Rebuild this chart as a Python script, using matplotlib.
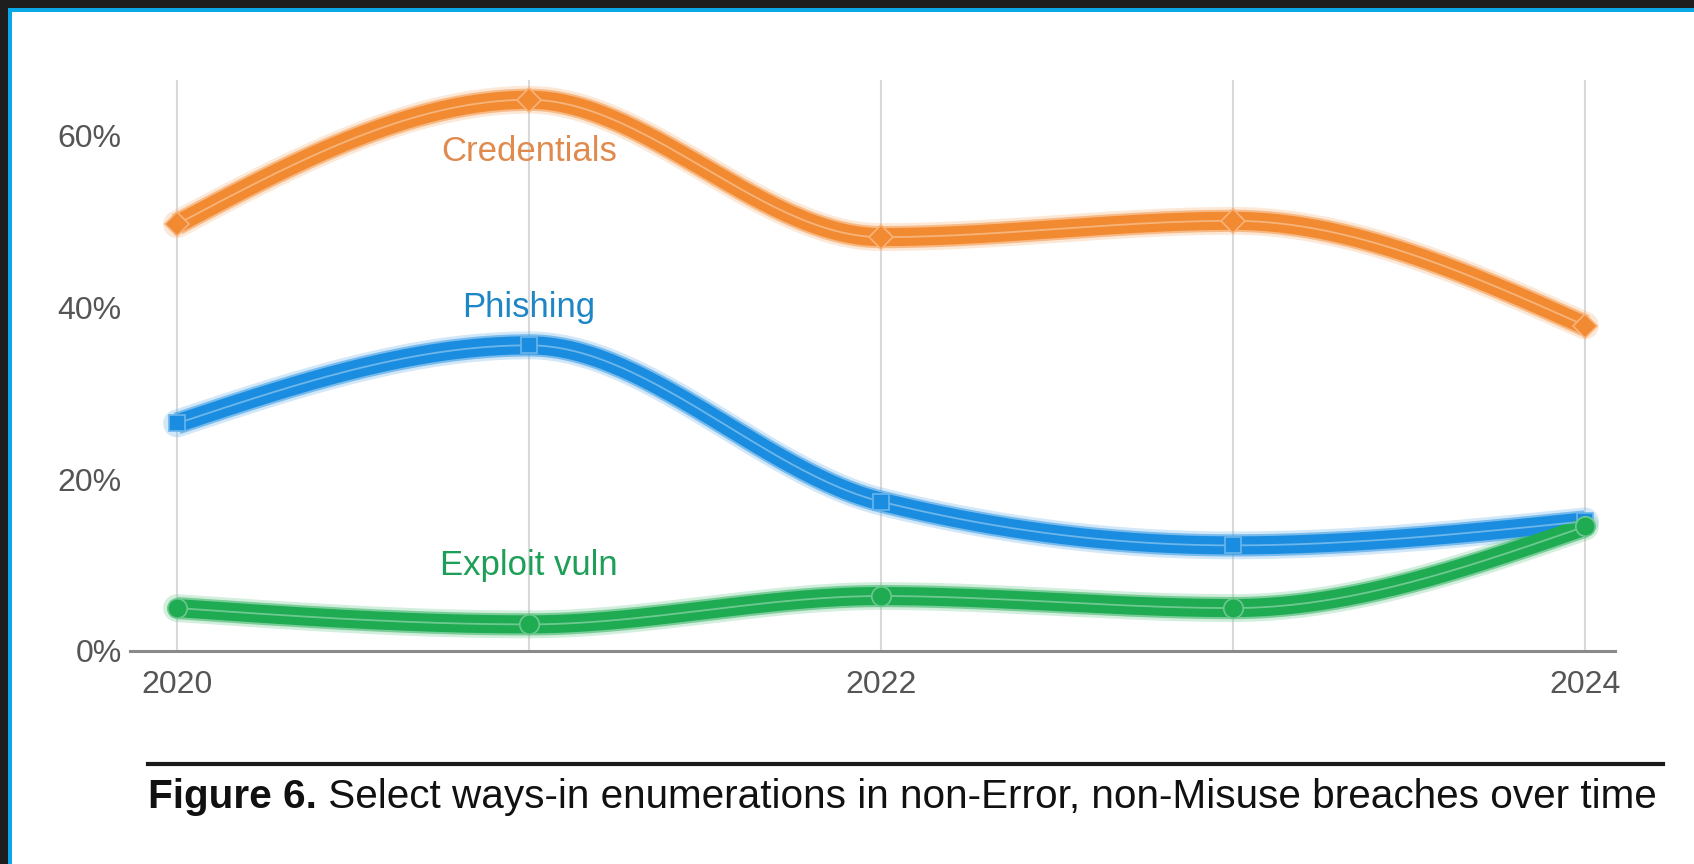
import numpy as np
import matplotlib
matplotlib.use("Agg")
import matplotlib.pyplot as plt
from matplotlib.patches import Rectangle
from matplotlib.lines import Line2D

plt.rcParams['font.family'] = ['Liberation Sans', 'DejaVu Sans']

years = [2020, 2021, 2022, 2023, 2024]
tick_years = [2020, 2022, 2024]
y_ticks = [0, 20, 40, 60]

credentials = [49.7, 64.2, 48.2, 50.1, 37.9]
phishing = [26.5, 35.6, 17.4, 12.3, 15.1]
exploit_vuln = [5.0, 3.1, 6.4, 5.0, 14.5]

series_names = ["Credentials", "Phishing", "Exploit vuln"]
label_y = [58.2, 40.0, 9.9]
caption_bold = "Figure 6."
caption_rest = " Select ways-in enumerations in non-Error, non-Misuse breaches over time"


def monotone_curve(x, y, n=60):
    """Monotone cubic (Fritsch-Carlson / curveMonotoneX style) interpolation."""
    x = np.asarray(x, float)
    y = np.asarray(y, float)
    h = np.diff(x)
    d = np.diff(y) / h
    m = np.zeros_like(y)
    for i in range(1, len(y) - 1):
        s0, s1 = d[i - 1], d[i]
        p = (s0 * h[i] + s1 * h[i - 1]) / (h[i - 1] + h[i])
        m[i] = (np.sign(s0) + np.sign(s1)) * min(abs(s0), abs(s1), 0.5 * abs(p))
    m[0] = (3 * d[0] - m[1]) / 2
    m[-1] = (3 * d[-1] - m[-2]) / 2
    xs, ys = [], []
    for i in range(len(h)):
        t = np.linspace(0, 1, n, endpoint=(i == len(h) - 1))
        h00 = 2 * t**3 - 3 * t**2 + 1
        h10 = t**3 - 2 * t**2 + t
        h01 = -2 * t**3 + 3 * t**2
        h11 = t**3 - t**2
        xs.append(x[i] + t * h[i])
        ys.append(h00 * y[i] + h10 * h[i] * m[i] + h01 * y[i + 1] + h11 * h[i] * m[i + 1])
    return np.concatenate(xs), np.concatenate(ys)


def lighten(c, f):
    c = np.array(matplotlib.colors.to_rgb(c))
    return tuple(c + (1 - c) * f)


W, H = 1694, 864
fig = plt.figure(figsize=(W / 100, H / 100), dpi=100)
fig.patch.set_facecolor('#1e1e1e')

# Frame: dark surround, blue edge, white panel
fig.add_artist(Rectangle((8 / W, 0), 1, 1 - 8 / H, transform=fig.transFigure,
                         facecolor='#0aa8e6', edgecolor='none', zorder=0))
fig.add_artist(Rectangle((12 / W, 0), 1, 1 - 12 / H, transform=fig.transFigure,
                         facecolor='white', edgecolor='none', zorder=0))

ax = fig.add_axes([130 / W, 1 - 651 / H, (1615 - 130) / W, (651 - 80) / H])
ax.set_facecolor('none')
ax.set_xlim(2020 - 47 / 352, 2024 + 30 / 352)
ax.set_ylim(0, 66.5)

for s in ['top', 'right', 'left']:
    ax.spines[s].set_visible(False)
ax.spines['bottom'].set_color('#8a8a8a')
ax.spines['bottom'].set_linewidth(2.2)
ax.spines['bottom'].set_zorder(3)

for yr in years:
    ax.axvline(yr, color='#d9d9d9', lw=1.5, zorder=1)

ax.set_xticks(tick_years)
ax.set_xticklabels([str(v) for v in tick_years])
ax.set_yticks(y_ticks)
ax.set_yticklabels([f"{v}%" for v in y_ticks])
ax.tick_params(axis='both', length=0, labelsize=23, labelcolor='#555555')
ax.tick_params(axis='x', pad=14)
ax.tick_params(axis='y', pad=6)

colors = ['#f28a32', '#1a8de0', '#1eab52']
label_colors = ['#e08a4e', '#1f86c6', '#1d9f58']
markers = ['D', 's', 'o']
marker_sizes = [12, 12, 14]

for vals, col, mk, ms, name, ly, lc in zip(
        [credentials, phishing, exploit_vuln], colors, markers, marker_sizes,
        series_names, label_y, label_colors):
    xs, ys = monotone_curve(years, vals)
    ax.plot(xs, ys, color=lighten(col, 0.35), lw=20, alpha=0.3,
            solid_capstyle='round', zorder=4, clip_on=False)
    ax.plot(xs, ys, color=lighten(col, 0.15), lw=16, alpha=0.6,
            solid_capstyle='butt', zorder=4, clip_on=False)
    ax.plot(xs, ys, color=col, lw=13, solid_capstyle='butt', zorder=5, clip_on=False)
    ax.plot(xs, ys, color=lighten(col, 0.4), lw=1.3, alpha=0.9, zorder=6, clip_on=False)
    ax.plot(years, vals, linestyle='none', marker=mk, ms=ms, color=col,
            markeredgecolor=lighten(col, 0.35), markeredgewidth=1.2, zorder=7, clip_on=False)
    ax.text(2021, ly, name, color=lc, fontsize=25, ha='center', va='center', zorder=8)

# Caption with rule above it
fig.add_artist(Line2D([148 / W, 1663 / W], [1 - 764 / H, 1 - 764 / H],
                      transform=fig.transFigure, color='#1a1a1a', lw=3))
t1 = fig.text(148 / W, 1 - 808 / H, caption_bold, fontsize=29.2, fontweight='bold',
              color='#111111', ha='left', va='baseline')
fig.canvas.draw()
bb = t1.get_window_extent(renderer=fig.canvas.get_renderer())
fig.text(bb.x1 / W, 1 - 808 / H, caption_rest, fontsize=29.2,
         color='#111111', ha='left', va='baseline')

fig.savefig('out.png', dpi=100, facecolor=fig.get_facecolor())
